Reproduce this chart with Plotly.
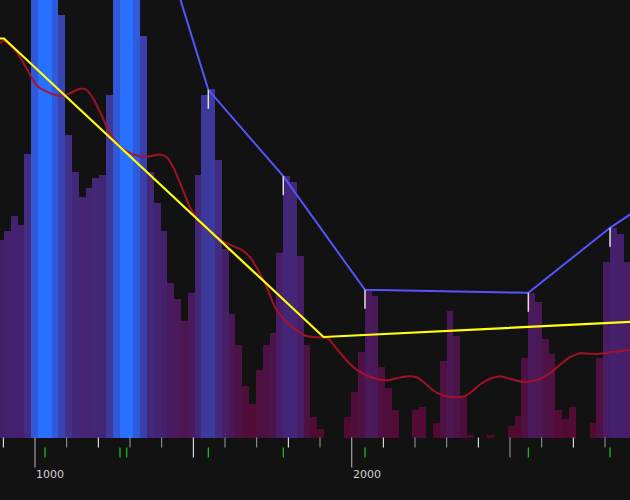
import plotly.graph_objects as go

# ---------------- data ----------------
bin_start = 880.5
bin_width = 21.5
counts = [197.5, 206.5, 221.8, 212.5, 283.5, 480, 560, 565, 485, 422.8,
          302.5, 265.2, 240.8, 249.8, 259.2, 262.5, 342.5, 480, 560, 560,
          485, 401.5, 265.2, 234.8, 206.5, 154.2, 138.5, 116.8, 144.8, 262.5,
          342.5, 348.5, 277.5, 188.2, 123.5, 92.5, 51.8, 33.5, 67.5, 92.5,
          104.8, 184.8, 261.8, 255.8, 181.5, 92.5, 20.8, 8.5, 0, 0,
          0, 20.8, 45.8, 85.8, 146.5, 141.5, 70.8, 49.2, 27.5, 0,
          0, 27.5, 30.2, 0, 14.8, 76.5, 126.5, 101.5, 41.5, 2.5,
          0, 0, 2.5, 0, 0, 11.8, 21.5, 79.8, 144.8, 135.8,
          98.5, 83.2, 27.5, 18.2, 30.2, 0, 0, 14.8, 79.8, 175.8,
          209.8, 203.2, 175.8]

red_x = [889.5, 899.9, 910.6, 942.2, 973.8, 1005.4, 1047.4, 1079, 1110.5, 1142.1,
         1161.1, 1184.1, 1210.6, 1236.8, 1268.4, 1300, 1331.6, 1363.2, 1394.7, 1415.9,
         1436.7, 1463.3, 1489.5, 1515.7, 1547.3, 1589.6, 1621.2, 1652.7, 1678.9, 1705.2,
         1731.7, 1757.9, 1784.1, 1821.1, 1852.6, 1884.2, 1900, 1926.2, 1952.7, 1984.3,
         2015.9, 2047.5, 2079, 2110.6, 2142.2, 2178.9, 2205.4, 2231.6, 2257.8, 2289.4,
         2326.3, 2352.6, 2373.7, 2405.3, 2436.8, 2468.4, 2500, 2531.6, 2563.2, 2594.7,
         2626.3, 2657.9, 2689.5, 2721.1, 2752.6, 2784.2, 2815.8, 2847.4, 2878.9]
red_y = [394.3, 397, 395.3, 385.3, 368.7, 352, 344.3, 341.3, 344.3, 348.7,
         348, 338.7, 322, 303.7, 291, 284.3, 281.3, 281.3, 283, 280.3,
         270.3, 250.3, 230.3, 217, 207, 197, 192, 187.7, 180.3, 167,
         150.3, 130.3, 118.7, 108.7, 102, 100.3, 100.3, 98.7, 88.7, 77,
         67.7, 62, 58.7, 57, 59.3, 61.3, 60.3, 54.3, 47, 42,
         40.3, 41, 44.5, 53, 58.7, 61.3, 58.7, 56, 56, 58.7,
         64.3, 72.7, 80.3, 84.3, 83.7, 83.7, 85.3, 86.3, 87.7]

yellow_x = [860, 902, 1911, 3000]
yellow_y = [399, 399, 100.5, 117.5]

blue_x = [1289, 1547.3, 1784, 2042, 2557.8, 2815.8, 3074]
blue_y = [612, 347.7, 261.3, 147.7, 144.7, 209.7, 264]
marker_len = 19

gray_ticks = [1000, 1100, 1300, 1400, 1600, 1700, 1900, 2000, 2200, 2300, 2500, 2600, 2800]
white_ticks = [900, 1200, 1500, 1800, 2100, 2400, 2700]
long_ticks = [1000, 2000]
mid_ticks = [1500, 2500]
green_ticks = [1031.6, 1268.4, 1289.5, 1547.3, 1784.1, 2042.1, 2557.9, 2815.8]
tick_labels = ["1000", "2000"]

# ---------------- figure ----------------
centers = [bin_start + bin_width * (i + 0.5) for i in range(len(counts))]

colorscale = [
    [0.0, "#500a2c"], [0.054, "#520c36"], [0.16, "#4d1244"], [0.26, "#4a1a5c"],
    [0.375, "#45206e"], [0.464, "#432676"], [0.536, "#41308a"], [0.616, "#3c3a9c"],
    [0.75, "#3a42b0"], [0.857, "#3058d8"], [1.0, "#2870ff"],
]

fig = go.Figure()
fig.add_trace(go.Bar(
    x=centers, y=counts, width=bin_width,
    marker=dict(color=counts, colorscale=colorscale, cmin=0, cmax=560, line=dict(width=0)),
    hoverinfo="skip",
))

fig.add_trace(go.Scatter(x=red_x, y=red_y, mode="lines",
                         line=dict(color="rgba(170,18,40,0.95)", width=2, shape="spline", smoothing=0.6),
                         hoverinfo="skip"))
fig.add_trace(go.Scatter(x=yellow_x, y=yellow_y, mode="lines",
                         line=dict(color="#ffff10", width=2.2), hoverinfo="skip"))
fig.add_trace(go.Scatter(x=blue_x, y=blue_y, mode="lines",
                         line=dict(color="#5555ff", width=2), hoverinfo="skip"))

# white markers hanging from blue vertices
mx, my = [], []
for x, y in zip(blue_x, blue_y):
    mx += [x, x, None]
    my += [y, y - marker_len, None]
fig.add_trace(go.Scatter(x=mx, y=my, mode="lines", line=dict(color="#dddddd", width=1.5),
                         hoverinfo="skip"))


def seg_trace(positions, y0, y1, color, width):
    xs, ys = [], []
    for p in positions:
        xs += [p, p, None]
        ys += [y0, y1, None]
    return go.Scatter(x=xs, y=ys, mode="lines", line=dict(color=color, width=width),
                      hoverinfo="skip")


def tick_len(p):
    if p in long_ticks:
        return 30
    if p in mid_ticks:
        return 20
    return 10


for p in gray_ticks:
    fig.add_trace(seg_trace([p], 0, -tick_len(p), "#a0a0a0", 1.2 if p in long_ticks else 1))
for p in white_ticks:
    fig.add_trace(seg_trace([p], 0, -tick_len(p), "#ffffff", 1))
fig.add_trace(seg_trace(green_ticks, -10, -20, "#18c818", 1.2))

for lbl in tick_labels:
    fig.add_annotation(x=float(lbl), y=-37, text=lbl, showarrow=False,
                       xanchor="left", yanchor="middle", xshift=-1,
                       font=dict(family="DejaVu Sans", size=11, color="#d0d0d0"))

fig.update_layout(
    width=630, height=500,
    margin=dict(l=0, r=0, t=0, b=0),
    paper_bgcolor="#121212", plot_bgcolor="#121212",
    showlegend=False, bargap=0,
    xaxis=dict(range=[889.47, 2878.9], visible=False, fixedrange=True),
    yaxis=dict(range=[-62.5, 437.5], visible=False, fixedrange=True),
)

fig.write_html("out.html", config={"displayModeBar": False},
               post_script="document.body.style.margin='0';document.body.style.background='#121212';")
